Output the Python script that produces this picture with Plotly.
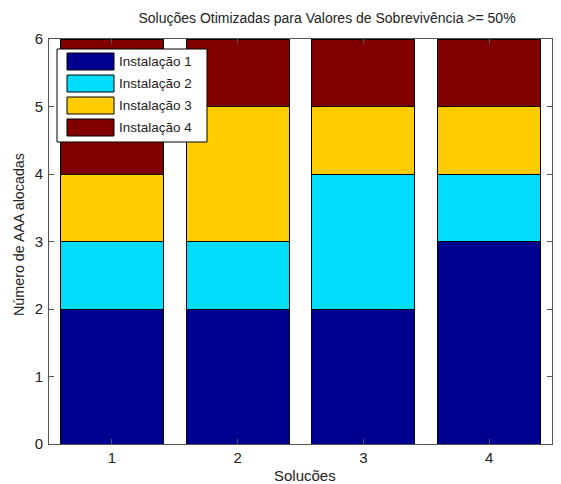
import plotly.graph_objects as go

categories = [1, 2, 3, 4]
series_names = ["Instalação 1", "Instalação 2", "Instalação 3", "Instalação 4"]
inst1 = [2, 2, 2, 3]
inst2 = [1, 1, 2, 1]
inst3 = [1, 2, 1, 1]
inst4 = [2, 1, 1, 1]
colors = ["#000090", "#00DDFA", "#FFCC00", "#800000"]

W, H = 561, 484
L, R, T, B = 49, 552, 39, 444
FONT = "Liberation Sans, Arial, sans-serif"
TXT = "#222222"

def px(x):
    return (x - L) / (R - L)

def py(y):
    return (B - y) / (B - T)

fig = go.Figure()
for name, vals, c in zip(series_names, [inst1, inst2, inst3, inst4], colors):
    fig.add_trace(go.Bar(x=categories, y=vals, name=name, marker=dict(color=c, line=dict(color="black", width=1)),
                         showlegend=False))

shapes = []
annotations = []
# legend box
shapes.append(dict(type="rect", xref="paper", yref="paper", x0=px(57), x1=px(207), y0=py(49), y1=py(142),
                   fillcolor="white", line=dict(color="black", width=1), layer="above"))
row_tops = [53, 75, 97, 119]
for name, c, top in zip(series_names, colors, row_tops):
    shapes.append(dict(type="rect", xref="paper", yref="paper", x0=px(67), x1=px(114), y0=py(top), y1=py(top + 17),
                       fillcolor=c, line=dict(color="black", width=1), layer="above"))
    annotations.append(dict(text=name, xref="paper", yref="paper", x=px(117), y=py(top + 8.5), xanchor="left",
                            yanchor="middle", showarrow=False, font=dict(family=FONT, size=13.5, color=TXT)))

annotations.append(dict(text="Solucões", xref="paper", yref="paper", x=px(305), y=py(475), xanchor="center",
                        yanchor="middle", showarrow=False, font=dict(family=FONT, size=15, color=TXT)))
annotations.append(dict(text="Número de AAA alocadas", xref="paper", yref="paper", x=px(19), y=py(235),
                        xanchor="center", yanchor="middle", textangle=-90, showarrow=False,
                        font=dict(family=FONT, size=14.3, color=TXT)))

fig.update_layout(
    width=W, height=H,
    margin=dict(l=L, r=W - R, t=T, b=H - B),
    barmode="stack", bargap=0.18,
    paper_bgcolor="white", plot_bgcolor="white",
    title=dict(text="Soluções Otimizadas para Valores de Sobrevivência >= 50%", x=px(327), xref="paper",
               xanchor="center", y=1 - 18 / H, yref="container", yanchor="middle",
               font=dict(family=FONT, size=14, color=TXT)),
    shapes=shapes, annotations=annotations,
    font=dict(family=FONT, size=13, color=TXT),
)
fig.update_xaxes(range=[0.5, 4.5], tickvals=categories, ticktext=[str(c) for c in categories],
                 showline=True, linecolor="#555555", linewidth=1, mirror="ticks", ticks="inside",
                 ticklen=5, tickcolor="#555555", showgrid=False, zeroline=False, ticklabelstandoff=0,
                 tickfont=dict(family=FONT, size=15, color=TXT))
fig.update_yaxes(range=[0, 6], dtick=1, showline=True, linecolor="#555555", linewidth=1, mirror="ticks",
                 ticks="inside", ticklen=5, tickcolor="#555555", showgrid=False, zeroline=False,
                 ticklabelstandoff=2, tickfont=dict(family=FONT, size=15, color=TXT))

fig.write_html("out.html", config={"displayModeBar": False},
               post_script="document.body.style.margin='0';")
